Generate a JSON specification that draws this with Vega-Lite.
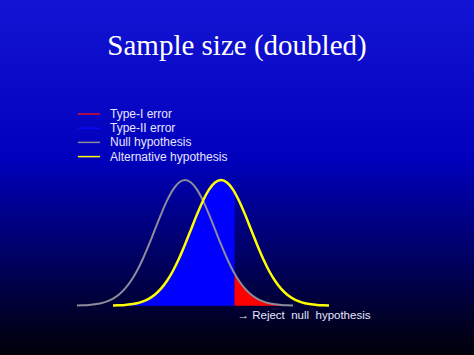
{
  "$schema": "https://vega.github.io/schema/vega-lite/v6.json",
  "width": 474,
  "height": 355,
  "padding": 0,
  "autosize": {"type": "fit", "contains": "padding"},
  "background": "#000010",
  "title": {
    "text": "Sample size (doubled)",
    "font": "Liberation Serif",
    "fontSize": 29,
    "fontWeight": "normal",
    "color": "#ffffff",
    "anchor": "middle",
    "frame": "group",
    "baseline": "alphabetic",
    "offset": -57,
    "dy": 27
  },
  "config": {
    "view": {"stroke": null},
    "legend": {
      "orient": "none",
      "legendX": 83,
      "legendY": 108,
      "padding": 0,
      "title": null,
      "labelFont": "Liberation Sans",
      "labelFontSize": 12,
      "labelColor": "#e6e6ff",
      "labelOffset": 15,
      "rowPadding": 2.2,
      "symbolType": "M-3.7,0H3.7",
      "symbolSize": 36,
      "symbolStrokeWidth": 1.5
    }
  },
  "datasets": {
    "nullh": [
      {"s": "Null hypothesis", "x": -3.6, "y": 0.00061},
      {"s": "Null hypothesis", "x": -3.4, "y": 0.00123},
      {"s": "Null hypothesis", "x": -3.2, "y": 0.00238},
      {"s": "Null hypothesis", "x": -3.0, "y": 0.00443},
      {"s": "Null hypothesis", "x": -2.8, "y": 0.00792},
      {"s": "Null hypothesis", "x": -2.6, "y": 0.01358},
      {"s": "Null hypothesis", "x": -2.4, "y": 0.02239},
      {"s": "Null hypothesis", "x": -2.2, "y": 0.03547},
      {"s": "Null hypothesis", "x": -2.0, "y": 0.05399},
      {"s": "Null hypothesis", "x": -1.8, "y": 0.07895},
      {"s": "Null hypothesis", "x": -1.6, "y": 0.11092},
      {"s": "Null hypothesis", "x": -1.4, "y": 0.14973},
      {"s": "Null hypothesis", "x": -1.2, "y": 0.19419},
      {"s": "Null hypothesis", "x": -1.0, "y": 0.24197},
      {"s": "Null hypothesis", "x": -0.8, "y": 0.28969},
      {"s": "Null hypothesis", "x": -0.6, "y": 0.33322},
      {"s": "Null hypothesis", "x": -0.4, "y": 0.36827},
      {"s": "Null hypothesis", "x": -0.2, "y": 0.39104},
      {"s": "Null hypothesis", "x": 0.0, "y": 0.39894},
      {"s": "Null hypothesis", "x": 0.2, "y": 0.39104},
      {"s": "Null hypothesis", "x": 0.4, "y": 0.36827},
      {"s": "Null hypothesis", "x": 0.6, "y": 0.33322},
      {"s": "Null hypothesis", "x": 0.8, "y": 0.28969},
      {"s": "Null hypothesis", "x": 1.0, "y": 0.24197},
      {"s": "Null hypothesis", "x": 1.2, "y": 0.19419},
      {"s": "Null hypothesis", "x": 1.4, "y": 0.14973},
      {"s": "Null hypothesis", "x": 1.6, "y": 0.11092},
      {"s": "Null hypothesis", "x": 1.65, "y": 0.10226},
      {"s": "Null hypothesis", "x": 1.8, "y": 0.07895},
      {"s": "Null hypothesis", "x": 2.0, "y": 0.05399},
      {"s": "Null hypothesis", "x": 2.2, "y": 0.03547},
      {"s": "Null hypothesis", "x": 2.4, "y": 0.02239},
      {"s": "Null hypothesis", "x": 2.6, "y": 0.01358},
      {"s": "Null hypothesis", "x": 2.8, "y": 0.00792},
      {"s": "Null hypothesis", "x": 3.0, "y": 0.00443},
      {"s": "Null hypothesis", "x": 3.2, "y": 0.00238},
      {"s": "Null hypothesis", "x": 3.4, "y": 0.00123},
      {"s": "Null hypothesis", "x": 3.6, "y": 0.00061}
    ],
    "alth": [
      {"s": "Alternative hypothesis", "x": -2.4, "y": 0.00061},
      {"s": "Alternative hypothesis", "x": -2.2, "y": 0.00123},
      {"s": "Alternative hypothesis", "x": -2.0, "y": 0.00238},
      {"s": "Alternative hypothesis", "x": -1.8, "y": 0.00443},
      {"s": "Alternative hypothesis", "x": -1.6, "y": 0.00792},
      {"s": "Alternative hypothesis", "x": -1.4, "y": 0.01358},
      {"s": "Alternative hypothesis", "x": -1.2, "y": 0.02239},
      {"s": "Alternative hypothesis", "x": -1.0, "y": 0.03547},
      {"s": "Alternative hypothesis", "x": -0.8, "y": 0.05399},
      {"s": "Alternative hypothesis", "x": -0.6, "y": 0.07895},
      {"s": "Alternative hypothesis", "x": -0.4, "y": 0.11092},
      {"s": "Alternative hypothesis", "x": -0.2, "y": 0.14973},
      {"s": "Alternative hypothesis", "x": 0.0, "y": 0.19419},
      {"s": "Alternative hypothesis", "x": 0.2, "y": 0.24197},
      {"s": "Alternative hypothesis", "x": 0.4, "y": 0.28969},
      {"s": "Alternative hypothesis", "x": 0.6, "y": 0.33322},
      {"s": "Alternative hypothesis", "x": 0.8, "y": 0.36827},
      {"s": "Alternative hypothesis", "x": 1.0, "y": 0.39104},
      {"s": "Alternative hypothesis", "x": 1.2, "y": 0.39894},
      {"s": "Alternative hypothesis", "x": 1.4, "y": 0.39104},
      {"s": "Alternative hypothesis", "x": 1.6, "y": 0.36827},
      {"s": "Alternative hypothesis", "x": 1.65, "y": 0.36053},
      {"s": "Alternative hypothesis", "x": 1.8, "y": 0.33322},
      {"s": "Alternative hypothesis", "x": 2.0, "y": 0.28969},
      {"s": "Alternative hypothesis", "x": 2.2, "y": 0.24197},
      {"s": "Alternative hypothesis", "x": 2.4, "y": 0.19419},
      {"s": "Alternative hypothesis", "x": 2.6, "y": 0.14973},
      {"s": "Alternative hypothesis", "x": 2.8, "y": 0.11092},
      {"s": "Alternative hypothesis", "x": 3.0, "y": 0.07895},
      {"s": "Alternative hypothesis", "x": 3.2, "y": 0.05399},
      {"s": "Alternative hypothesis", "x": 3.4, "y": 0.03547},
      {"s": "Alternative hypothesis", "x": 3.6, "y": 0.02239},
      {"s": "Alternative hypothesis", "x": 3.8, "y": 0.01358},
      {"s": "Alternative hypothesis", "x": 4.0, "y": 0.00792},
      {"s": "Alternative hypothesis", "x": 4.2, "y": 0.00443},
      {"s": "Alternative hypothesis", "x": 4.4, "y": 0.00238},
      {"s": "Alternative hypothesis", "x": 4.6, "y": 0.00123},
      {"s": "Alternative hypothesis", "x": 4.8, "y": 0.00061}
    ],
    "note": [
      {"x": 1.65, "y": -0.034, "t": "→ Reject\u00a0 null\u00a0 hypothesis"}
    ]
  },
  "layer": [
    {
      "data": {"values": [{}]},
      "mark": {
        "type": "rect",
        "color": {
          "gradient": "linear",
          "x1": 0, "y1": 0, "x2": 0, "y2": 1,
          "stops": [
            {"offset": 0, "color": "#1414d4"},
            {"offset": 0.45, "color": "#0000bc"},
            {"offset": 0.75, "color": "#00005a"},
            {"offset": 0.95, "color": "#000018"},
            {"offset": 1, "color": "#00000c"}
          ]
        }
      },
      "encoding": {}
    },
    {
      "data": {"name": "alth"},
      "transform": [{"filter": "datum.x <= 1.65"}],
      "mark": {"type": "area", "color": "#0000ff", "interpolate": "monotone", "opacity": 1},
      "encoding": {
        "x": {"field": "x", "type": "quantitative", "scale": {"domain": [-6.167, 9.633], "nice": false, "zero": false}, "axis": null},
        "y": {"field": "y", "type": "quantitative", "scale": {"domain": [-0.1565, 0.97], "nice": false, "zero": false}, "axis": null}
      }
    },
    {
      "data": {"name": "nullh"},
      "transform": [{"filter": "datum.x >= 1.65"}],
      "mark": {"type": "area", "color": "#ff0000", "interpolate": "monotone", "opacity": 1},
      "encoding": {
        "x": {"field": "x", "type": "quantitative"},
        "y": {"field": "y", "type": "quantitative"}
      }
    },
    {
      "data": {"name": "nullh"},
      "mark": {"type": "line", "strokeWidth": 2, "interpolate": "monotone"},
      "encoding": {
        "x": {"field": "x", "type": "quantitative"},
        "y": {"field": "y", "type": "quantitative"},
        "color": {
          "field": "s",
          "type": "nominal",
          "scale": {
            "domain": ["Type-I error", "Type-II error", "Null hypothesis", "Alternative hypothesis"],
            "range": ["#e01020", "#0a0aff", "#8c8c9a", "#ffff00"]
          }
        }
      }
    },
    {
      "data": {"name": "alth"},
      "mark": {"type": "line", "strokeWidth": 2.5, "interpolate": "monotone"},
      "encoding": {
        "x": {"field": "x", "type": "quantitative"},
        "y": {"field": "y", "type": "quantitative"},
        "color": {"field": "s", "type": "nominal"}
      }
    },
    {
      "data": {"name": "note"},
      "mark": {"type": "text", "align": "left", "baseline": "middle", "dx": 3, "font": "Liberation Sans", "fontSize": 11.5, "color": "#e6e6ff"},
      "encoding": {
        "x": {"field": "x", "type": "quantitative"},
        "y": {"field": "y", "type": "quantitative"},
        "text": {"field": "t"}
      }
    }
  ]
}
